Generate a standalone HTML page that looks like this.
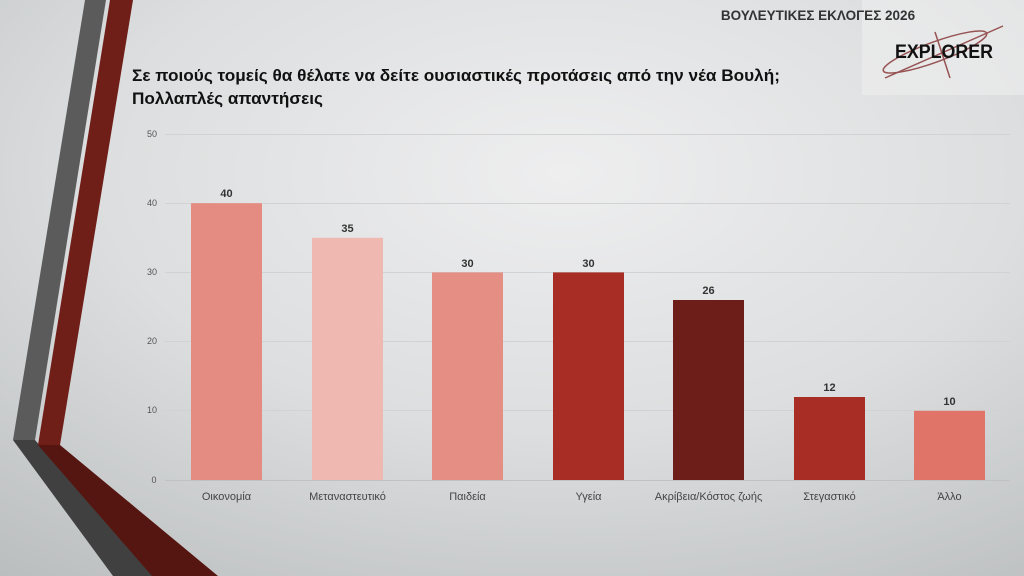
<!DOCTYPE html>
<html><head><meta charset="utf-8"><style>
html,body{margin:0;padding:0;width:1024px;height:576px;overflow:hidden}
svg{display:block}
text{font-family:"Liberation Sans","DejaVu Sans",sans-serif}
</style></head><body>
<svg width="1024" height="576" viewBox="0 0 1024 576" xmlns="http://www.w3.org/2000/svg">
<defs>
<radialGradient id="bg" cx="0.55" cy="0.3" r="0.9">
<stop offset="0" stop-color="#eeeeef"/>
<stop offset="0.5" stop-color="#dcdedf"/>
<stop offset="1" stop-color="#babdbe"/>
</radialGradient>
</defs>
<rect width="1024" height="576" fill="url(#bg)"/>
<rect x="862" y="0" width="162" height="95" fill="#efefef" opacity="0.6"/>
<!-- decorative bands -->
<polygon points="85,0 106,0 35,440 13,440" fill="#5b5b5b"/>
<polygon points="13,440 35,440 155,576 113,576" fill="#404040"/>
<polygon points="110,0 133,0 60,445 38,445" fill="#6f1e18"/>
<polygon points="38,445 60,445 218,576 152,576" fill="#551611"/>
<!-- header -->
<text x="818" y="20" font-size="13.5" font-weight="bold" fill="#333" text-anchor="middle">ΒΟΥΛΕΥΤΙΚΕΣ ΕΚΛΟΓΕΣ 2026</text>
<g stroke="#8a3a3a" stroke-width="1.5" fill="none" opacity="0.85">
<ellipse cx="935" cy="52" rx="55" ry="10" transform="rotate(-20 935 52)"/>
<line x1="885" y1="78" x2="1003" y2="26"/>
<line x1="935" y1="32" x2="950" y2="78"/>
</g>
<text x="895" y="58" font-size="19" font-weight="bold" fill="#111" textLength="98" lengthAdjust="spacingAndGlyphs">EXPLORER</text>
<!-- title -->
<text x="132" y="81" font-size="17" font-weight="bold" fill="#111" textLength="648" lengthAdjust="spacingAndGlyphs">Σε ποιούς τομείς θα θέλατε να δείτε ουσιαστικές προτάσεις από την νέα Βουλή;</text>
<text x="132" y="104" font-size="17" font-weight="bold" fill="#111" textLength="191" lengthAdjust="spacingAndGlyphs">Πολλαπλές απαντήσεις</text>
<!-- grid -->
<g stroke="#d0d2d3" stroke-width="1">
<line x1="165" y1="134.5" x2="1010" y2="134.5"/>
<line x1="165" y1="203.5" x2="1010" y2="203.5"/>
<line x1="165" y1="272.5" x2="1010" y2="272.5"/>
<line x1="165" y1="341.5" x2="1010" y2="341.5"/>
<line x1="165" y1="410.5" x2="1010" y2="410.5"/>
</g>
<line x1="165" y1="480.5" x2="1010" y2="480.5" stroke="#bfc1c2"/>
<g font-size="9" fill="#555" text-anchor="middle">
<text x="152" y="137">50</text><text x="152" y="206">40</text><text x="152" y="275">30</text>
<text x="152" y="344">20</text><text x="152" y="413">10</text><text x="154" y="483">0</text>
</g>
<!-- bars: 0 at 480, 6.92 px per unit -->
<rect x="191" y="203.2" width="71" height="276.8" fill="#e58c82"/>
<rect x="312" y="237.8" width="71" height="242.2" fill="#efb8b0"/>
<rect x="432" y="272.4" width="71" height="207.6" fill="#e58f84"/>
<rect x="553" y="272.4" width="71" height="207.6" fill="#a82d24"/>
<rect x="673" y="300" width="71" height="180" fill="#6e1e18"/>
<rect x="794" y="397" width="71" height="83" fill="#a82d24"/>
<rect x="914" y="410.8" width="71" height="69.2" fill="#e07468"/>
<g font-size="11" font-weight="bold" fill="#333" text-anchor="middle">
<text x="226.5" y="197">40</text><text x="347.5" y="232">35</text><text x="467.5" y="267">30</text>
<text x="588.5" y="267">30</text><text x="708.5" y="294">26</text><text x="829.5" y="391">12</text>
<text x="949.5" y="405">10</text>
</g>
<g font-size="11" fill="#444" text-anchor="middle">
<text x="226.5" y="500">Οικονομία</text><text x="347.5" y="500">Μεταναστευτικό</text>
<text x="467.5" y="500">Παιδεία</text><text x="588.5" y="500">Υγεία</text>
<text x="708.5" y="500">Ακρίβεια/Κόστος ζωής</text><text x="829.5" y="500">Στεγαστικό</text>
<text x="949.5" y="500">Άλλο</text>
</g>
</svg>
</body></html>
